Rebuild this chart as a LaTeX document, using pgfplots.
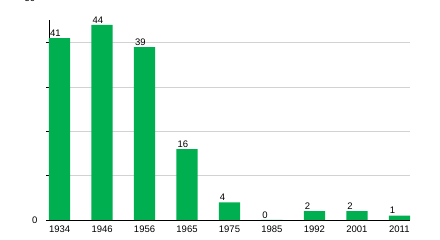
\documentclass[border=0pt]{standalone}
\usepackage{pgfplots}
\pgfplotsset{compat=1.18}
\usepackage{fontspec}
\setmainfont{Liberation Sans}
\definecolor{bargreen}{RGB}{0,176,80}
\begin{document}
\begin{tikzpicture}
\begin{axis}[
  name=ax,
  at={(0,0)}, anchor=south west,
  scale only axis,
  width=361pt, height=200pt,
  xmin=-0.25, xmax=8.25,
  ymin=0, ymax=45.1,
  axis lines=left,
  axis line style={-, black, line width=0.8pt},
  xtick=data,
  xticklabels={1934,1946,1956,1965,1975,1985,1992,2001,2011},
  xtick style={draw=none},
  ytick={0,10,20,30,40},
  yticklabels={0,,,,},
  ytick style={black, line width=0.5pt},
  tick align=outside,
  major tick length=3pt,
  ymajorgrids,
  grid style={gray!35, line width=0.6pt},
  /pgf/number format/assume math mode=true,
  ticklabel style={font=\fontsize{9.5}{11}\selectfont},
  xticklabel style={yshift=1pt},
  yticklabel style={xshift=-5pt},
  ybar,
  bar width=21.25pt,
  nodes near coords,
  every node near coord/.append style={font=\fontsize{9.5}{11}\selectfont, anchor=south west, xshift=-11.2pt, yshift=0pt, inner sep=1.5pt},
  clip=false,
]
\addplot[fill=bargreen, draw=none] coordinates {
(0,41) (1,44) (2,39) (3,16) (4,4) (5,0) (6,2) (7,2) (8,1)
};
\end{axis}
\node[overlay, font=\fontsize{9.5}{11}\selectfont] at ([shift={(-19pt,222pt)}]ax.south west) {50};
\pgfresetboundingbox
\path[use as bounding box] ([shift={(-49pt,-20pt)}]ax.south west) rectangle ([shift={(391pt,220pt)}]ax.south west);
\end{tikzpicture}
\end{document}
